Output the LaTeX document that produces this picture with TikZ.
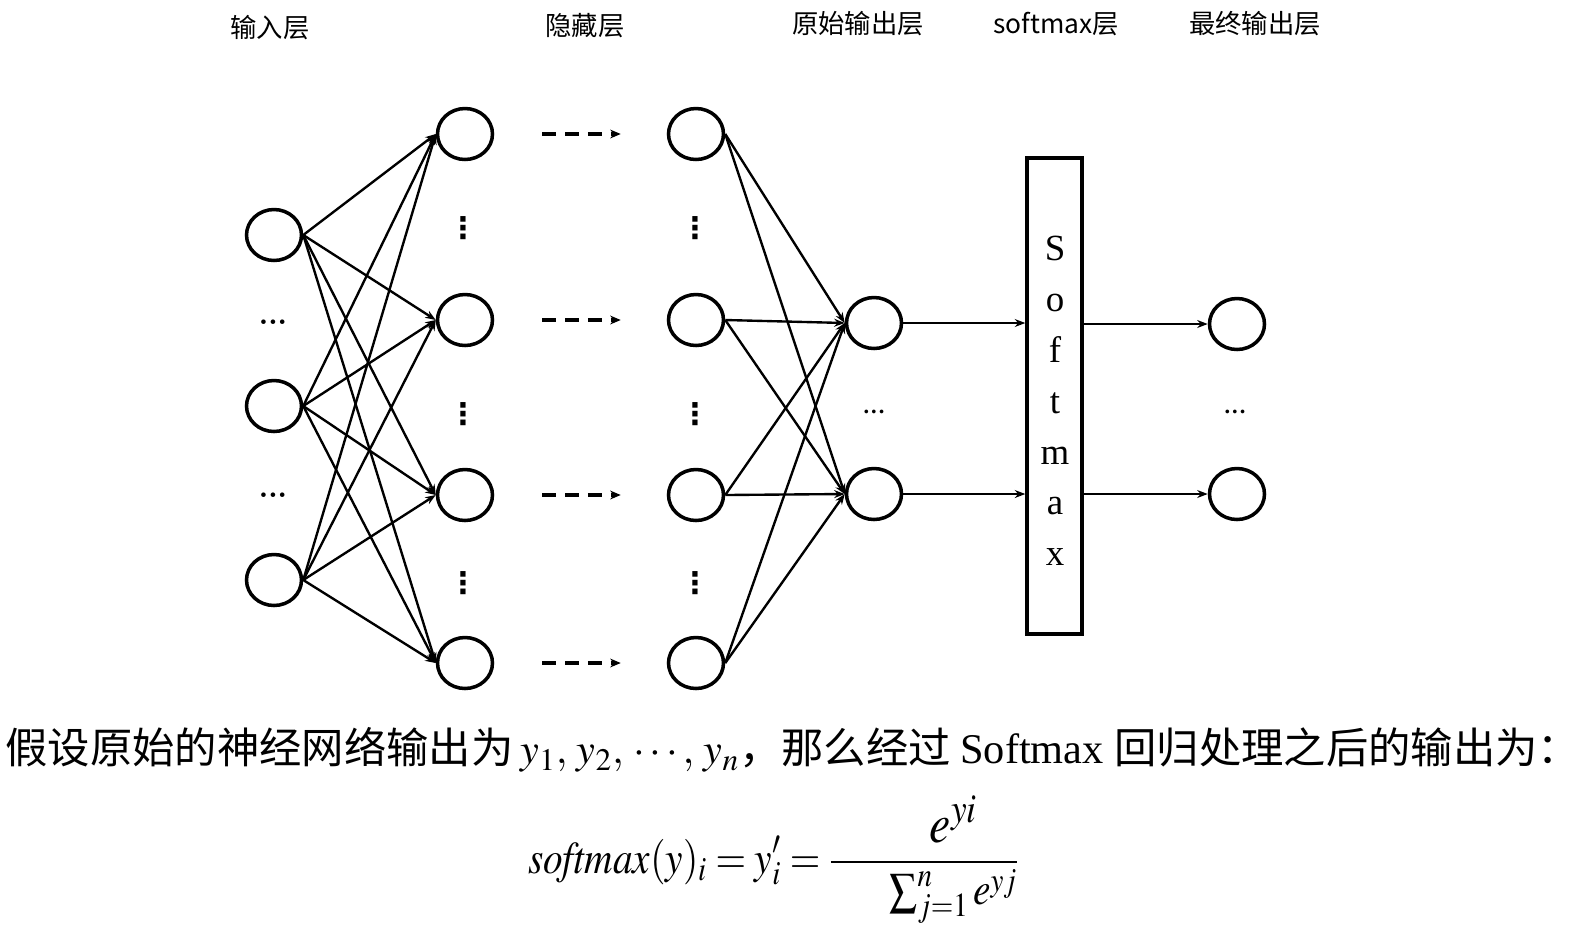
\documentclass[tikz,border=0pt]{standalone}
\usepackage{mathptmx}
\usepackage{fontspec}
\setmainfont{Liberation Serif}
\newfontfamily\cjk{Noto Sans CJK SC}
\newfontfamily\symfont{DejaVu Sans}
\usetikzlibrary{shapes.geometric,arrows.meta}

\begin{document}
\begin{tikzpicture}[x=0.02cm,y=-0.02cm,
    neuron/.style={draw,ellipse,line width=2pt,minimum width=1.1cm,minimum height=1.02cm,inner sep=0pt},
    link/.style={line width=1.35pt,-{Stealth[length=6pt,width=4.5pt]}},
    flow/.style={line width=1.1pt,-{Stealth[length=6pt,width=4.5pt]}},
    skip/.style={line width=1.8pt,dash pattern=on 8pt off 5pt,-{Stealth[length=6pt,width=5pt]},
      shorten <=0.96cm,shorten >=0.92cm},
    hdots/.style={font=\bfseries\fontsize{16}{16}\selectfont,inner sep=0pt},
    vdotsnode/.style={font=\symfont\bfseries\fontsize{17}{17}\selectfont,inner sep=0pt},
    layer/.style={font=\cjk\fontsize{15}{15}\selectfont}]
  \useasboundingbox (0,0) rectangle (1582,938);

  %%%%%%%%%%%%%%%%%%%%%%%%%%%%%%%%%%%%%%%%%%%%%%%%%%%%%%%%%%%%%%%%%%%%%%%%%%%
  %%%%  layer titles
  \node[layer] (tin) at (270,28) {输入层};
  \node[layer] (thid) at (585,26) {隐藏层};
  \node[layer] (traw) at (858,24) {原始输出层};
  \node[layer] (tsm) at (1056,24) {softmax层};
  \node[layer] (tfin) at (1255,24) {最终输出层};

  %%%%%%%%%%%%%%%%%%%%%%%%%%%%%%%%%%%%%%%%%%%%%%%%%%%%%%%%%%%%%%%%%%%%%%%%%%%
  %%%%  input layer
  \foreach \y [count=\k] in {235,406,580}
    \node[neuron] (in\k) at (274,\y) {};
  \node[hdots] (indots1) at (273,326) {···};
  \node[hdots] (indots2) at (273,499) {···};

  %%%%  hidden layers, first and last
  \foreach \y [count=\k] in {134,320,495,663}
   {\node[neuron] (ha\k) at (465,\y) {};
    \node[neuron] (hb\k) at (696,\y) {};
    \draw[skip] (ha\k) -- (hb\k);
   };
  \foreach \y [count=\k] in {228,414,583}
   {\node[vdotsnode] (hadots\k) at (463,\y) {⋮};
    \node[vdotsnode] (hbdots\k) at (695,\y) {⋮};
   };

  \foreach \a in {1,2,3}
   {\foreach \b in {1,2,3,4}
     {\draw[link] (in\a.east) -- (ha\b.west);
     }};

  %%%%%%%%%%%%%%%%%%%%%%%%%%%%%%%%%%%%%%%%%%%%%%%%%%%%%%%%%%%%%%%%%%%%%%%%%%%
  %%%%  raw output, softmax, final output
  \node[neuron] (out1) at (874,323) {};
  \node[neuron] (out2) at (874,494) {};
  \node[hdots,font=\bfseries\fontsize{13}{13}\selectfont] (outdots) at (874,415) {···};

  \foreach \a in {1,2,3,4}
   {\foreach \b in {1,2}
     {\draw[link] (hb\a.east) -- (out\b.west);
     }};

  \node[draw,line width=1.9pt,minimum width=1.1cm,minimum height=9.52cm,inner sep=0pt] (sm) at (1054.5,396) {};
  \node[align=center,inner sep=0pt,font=\fontsize{21}{28.9}\selectfont] (smtext) at (1055,401)
        {S\\o\\f\\t\\m\\a\\x};

  \node[neuron] (fin1) at (1237,324) {};
  \node[neuron] (fin2) at (1237,494) {};
  \node[hdots,font=\bfseries\fontsize{13}{13}\selectfont] (findots) at (1235,415) {···};

  \foreach \k in {1,2}
   {\draw[flow] (out\k) -- (out\k -| sm.west);
    \draw[flow] (fin\k -| sm.east) -- (fin\k);
   };

  %%%%%%%%%%%%%%%%%%%%%%%%%%%%%%%%%%%%%%%%%%%%%%%%%%%%%%%%%%%%%%%%%%%%%%%%%%%
  %%%%  text below
  \node[anchor=west,inner sep=0pt,font=\fontsize{24.5}{24.5}\selectfont] (intro) at (5,750)
    {\resizebox{31.5cm}{!}{\cjk 假设原始的神经网络输出为\,\rmfamily$y_1,\, y_2,\, \cdots,\, y_n$\cjk ，那么经过 \rmfamily Softmax \cjk 回归处理之后的输出为：}};
  \node[inner sep=0pt,font=\fontsize{28}{28}\selectfont] (formula) at (773.5,860)
    {\resizebox*{9.82cm}{2.56cm}{\thickmuskip=4mu$\displaystyle \mathit{softmax}(y)_i = y'_i =
      \frac{\hspace{1.5em}\mbox{\fontsize{34}{34}\selectfont$e^{yi}$}}{\hspace{1.5em}\sum\nolimits_{j=1}^{n} e^{yj}}$}};
\end{tikzpicture}
\end{document}
